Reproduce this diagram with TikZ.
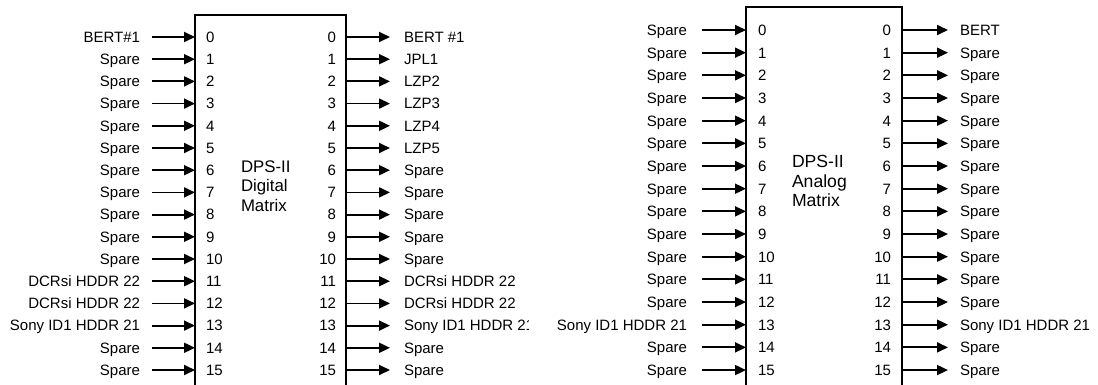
\documentclass[tikz,border=0pt]{standalone}
\usepackage{fontspec}
\setmainfont{Liberation Sans}
\usetikzlibrary{arrows.meta}
\tikzset{
  lbl/.style={inner sep=0pt, outer sep=0pt, font=\fontsize{15}{17}\selectfont, text height=10.7pt, text depth=0pt},
  arr/.style={line width=1.8pt, -{Triangle[length=11pt,width=10pt]}},
  matrixbox/.style={draw, line width=1.8pt, inner sep=0pt, outer sep=0pt, anchor=north west},
  title/.style={inner sep=0pt, outer sep=0pt, align=left, anchor=west}
}
\begin{document}
\begin{tikzpicture}[x=1pt,y=-1pt]
\useasboundingbox (0,0) rectangle (1098,385);
\clip (0,0) rectangle (1098,385);
% ---------- Digital matrix ----------
\node[matrixbox, minimum width=151pt, minimum height=420pt] (dbox) at (195,15) {};
\node[title, font=\fontsize{16.8}{19.5}\selectfont] (dtitle) at (241,186) {DPS-II\\Digital\\Matrix};
\foreach \i/\t in {0/BERT\#1,1/Spare,2/Spare,3/Spare,4/Spare,5/Spare,6/Spare,7/Spare,8/Spare,9/Spare,10/Spare,11/DCRsi HDDR 22,12/DCRsi HDDR 22,13/Sony ID1 HDDR 21,14/Spare,15/Spare}{
  \pgfmathsetmacro{\yy}{37+22.2*\i}
  \node[lbl, anchor=east] (dIn\i) at (140,\yy) {\t};
  \coordinate (dInA\i) at (152,\yy);
  \node[lbl, anchor=west] (dInN\i) at (206,\yy) {\i};
  \draw[arr] (dInA\i) -- (dInA\i -| dbox.west);
}
\foreach \i/\t in {0/BERT \#1,1/JPL1,2/LZP2,3/LZP3,4/LZP4,5/LZP5,6/Spare,7/Spare,8/Spare,9/Spare,10/Spare,11/DCRsi HDDR 22,12/DCRsi HDDR 22,14/Spare,15/Spare}{
  \pgfmathsetmacro{\yy}{37+22.2*\i}
  \node[lbl, anchor=east] (dOutN\i) at (336,\yy) {\i};
  \coordinate (dOutA\i) at (390,\yy);
  \node[lbl, anchor=west] (dOut\i) at (404,\yy) {\t};
  \draw[arr] (dOutA\i -| dbox.east) -- (dOutA\i);
}
\pgfmathsetmacro{\yy}{37+22.2*13}
\node[lbl, anchor=east] (dOutN13) at (336,\yy) {13};
\coordinate (dOutA13) at (390,\yy);
\begin{scope}
  \clip (0,0) rectangle (528,385);
  \node[lbl, anchor=west] (dOut13) at (404,\yy) {Sony ID1 HDDR 21};
\end{scope}
\draw[arr] (dOutA13 -| dbox.east) -- (dOutA13);
% ---------- Analog matrix ----------
\node[matrixbox, minimum width=156pt, minimum height=430pt] (abox) at (746,7) {};
\node[title, font=\fontsize{17.6}{19.2}\selectfont] (atitle) at (792,181) {DPS-II\\Analog\\Matrix};
\foreach \i/\t in {0/Spare,1/Spare,2/Spare,3/Spare,4/Spare,5/Spare,6/Spare,7/Spare,8/Spare,9/Spare,10/Spare,11/Spare,12/Spare,13/Sony ID1 HDDR 21,14/Spare,15/Spare}{
  \pgfmathsetmacro{\yy}{30+22.67*\i}
  \node[lbl, anchor=east] (aIn\i) at (687,\yy) {\t};
  \coordinate (aInA\i) at (702,\yy);
  \node[lbl, anchor=west] (aInN\i) at (758,\yy) {\i};
  \draw[arr] (aInA\i) -- (aInA\i -| abox.west);
}
\foreach \i/\t in {0/BERT,1/Spare,2/Spare,3/Spare,4/Spare,5/Spare,6/Spare,7/Spare,8/Spare,9/Spare,10/Spare,11/Spare,12/Spare,13/Sony ID1 HDDR 21,14/Spare,15/Spare}{
  \pgfmathsetmacro{\yy}{30+22.67*\i}
  \node[lbl, anchor=east] (aOutN\i) at (891,\yy) {\i};
  \coordinate (aOutA\i) at (948,\yy);
  \node[lbl, anchor=west] (aOut\i) at (960,\yy) {\t};
  \draw[arr] (aOutA\i -| abox.east) -- (aOutA\i);
}
\end{tikzpicture}
\end{document}
